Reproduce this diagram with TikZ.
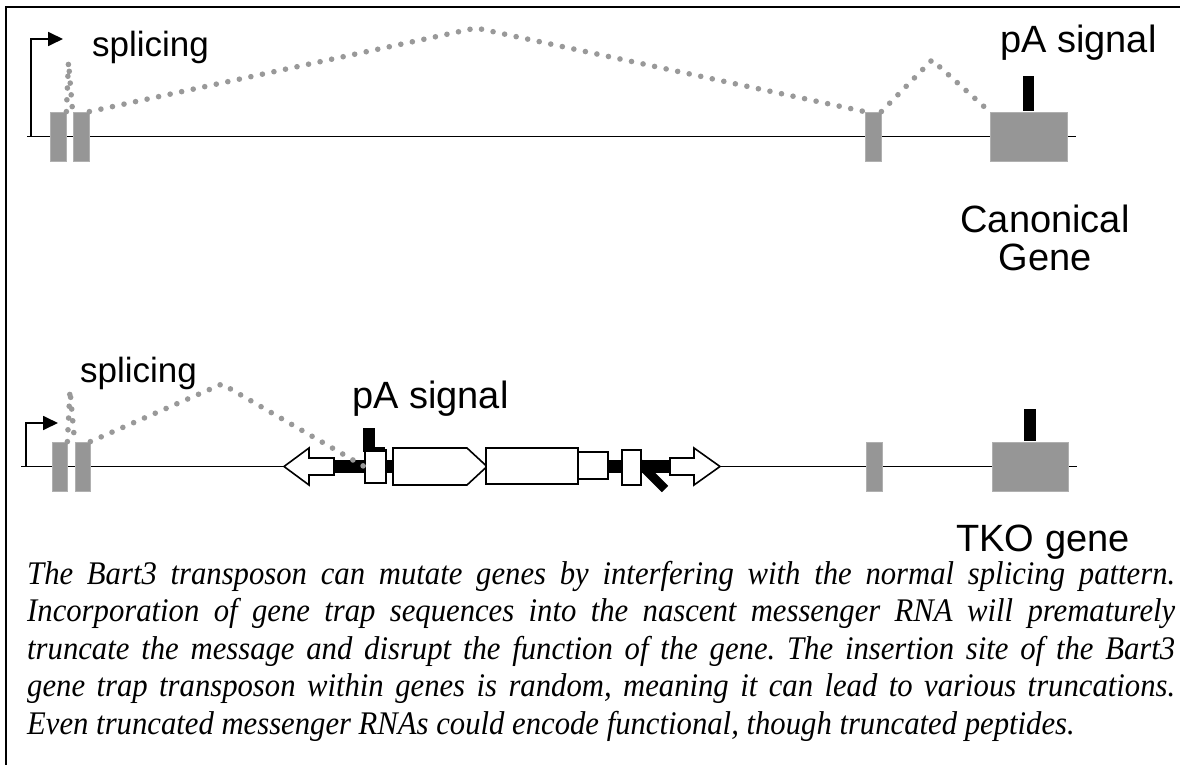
\documentclass[tikz,border=0pt]{standalone}
\usepackage{fontspec}
\setmainfont{Liberation Sans}
\newfontfamily\capfont[FakeStretch=0.93]{Liberation Serif}
\usetikzlibrary{arrows.meta}
\definecolor{exgray}{HTML}{969696}
\definecolor{dotgray}{HTML}{999999}
\begin{document}
\frenchspacing
\begin{tikzpicture}[x=1pt,y=-1pt,
  exon/.style={fill=exgray, draw=exgray!75!white, line width=0.8pt, inner sep=0pt, minimum height=49pt},
  pabar/.style={fill=black, draw=none, inner sep=0pt},
  tbox/.style={draw=black, fill=white, line width=1.6pt, inner sep=0pt},
  tarrow/.style={draw=black, fill=white, line width=1.6pt, line join=miter},
  splice/.style={dotgray, line width=5.6pt, line cap=round, dash pattern=on 0pt off 11.8pt},
  gline/.style={line width=1.8pt},
  tss/.style={line width=1.8pt, -{Triangle[length=15pt,width=14pt]}},
  lbl/.style={inner sep=0pt, font=\fontsize{38}{38}\selectfont},
  slbl/.style={inner sep=0pt, font=\fontsize{35}{35}\selectfont}
]
\useasboundingbox (0,0) rectangle (1180,765);
% frame
\draw[line width=2.5pt] (6,765) -- (6,7) -- (1180,7);

% ---------------- canonical gene ----------------
\coordinate (tl0) at (27,136.5);
\coordinate (tl1) at (1076,136.5);
\draw[gline] (tl0) -- (tl1);
\coordinate (ts0) at (31,136.5);
\coordinate (ts1) at (31,39);
\coordinate (ts2) at (63,39);
\draw[tss] (ts0) -- (ts1) -- (ts2);

\node[exon, minimum width=16pt] (t1) at (58,136.5) {};
\node[exon, minimum width=16pt] (t2) at (81,136.5) {};
\node[exon, minimum width=16pt] (t3) at (873,136.5) {};
\node[exon, minimum width=77pt] (t4) at (1028.5,136.5) {};
\node[pabar, minimum width=11pt, minimum height=35pt, anchor=south] (tpa) at (t4.north) {};

\coordinate (tp1) at (68.5,62);
\coordinate (tp2) at (476,28);
\coordinate (tp3) at (932,60);
\draw[splice] (t1.north east) -- (tp1) -- (t2.north west);
\draw[splice] (t2.north east) -- (tp2) -- (t3.north west);
\draw[splice] (t3.north east) -- (tp3) -- (t4.north west);

\node[slbl, anchor=base west] (tspl) at (92,57) {splicing};
\node[lbl, anchor=base west] (tpal) at (1000,53) {pA signal};
\node[lbl, anchor=base] (can) at (1045,232) {Canonical};
\node[lbl, anchor=base] (gen) at (1045,270) {Gene};

% ---------------- TKO gene ----------------
\coordinate (bl0) at (21,466.5);
\coordinate (bl1) at (1077,466.5);
\draw[gline] (bl0) -- (bl1);
\coordinate (bs0) at (26,466.5);
\coordinate (bs1) at (26,423);
\coordinate (bs2) at (58,423);
\draw[tss] (bs0) -- (bs1) -- (bs2);

\node[exon, minimum width=15pt] (b1) at (59.5,466.5) {};
\node[exon, minimum width=15pt] (b2) at (82.5,466.5) {};
\node[exon, minimum width=16pt] (b3) at (874,466.5) {};
\node[exon, minimum width=76pt] (b4) at (1030,466.5) {};
\node[pabar, minimum width=12pt, minimum height=32pt, anchor=south] (bpa) at (b4.north) {};

% transposon
\fill (334,460) rectangle (366,473);
\fill (386,460) rectangle (394,473);
\fill (607,460) rectangle (623,473);
\fill (640,460) rectangle (671,473);
\draw[line width=9pt] (638,462) -- (665,489);
\draw[tarrow] (284,466.5) -- (309,448) -- (309,458) -- (334,458) -- (334,475) -- (309,475) -- (309,485) -- cycle;
\draw[tarrow] (720,466.5) -- (694,448) -- (694,458) -- (670,458) -- (670,475) -- (694,475) -- (694,485) -- cycle;
\node[tbox, minimum width=21pt, minimum height=33pt] (x1) at (375.5,466.5) {};
\fill (363,428) rectangle (375,451);
\fill (363,447) rectangle (385,452);
\draw[tarrow] (393,448) -- (467,448) -- (487,466.5) -- (467,485) -- (393,485) -- cycle;
\node[tbox, minimum width=92pt, minimum height=36pt] (x2) at (532,466) {};
\node[tbox, minimum width=30pt, minimum height=27pt] (x3) at (593,465.5) {};
\node[tbox, minimum width=19pt, minimum height=35pt] (x4) at (631.5,467.5) {};

\coordinate (bp1) at (70,390);
\coordinate (bp2) at (222,384);
\draw[splice] (b1.north east) -- (bp1) -- (b2.north west);
\draw[splice] (b2.north east) -- (bp2) -- (x1.west);

\node[slbl, anchor=base west] (bspl) at (80,382) {splicing};
\node[lbl, anchor=base west] (bpal) at (352,408) {pA signal};
\node[lbl, anchor=base] (tko) at (1043,551) {TKO gene};

% caption
\node[anchor=north west, inner sep=0pt, text width=1148pt, align=justify,
      font=\capfont\itshape\fontsize{33}{37.5}\selectfont] (cap) at (27,561)
{The Bart3 transposon can mutate genes by interfering with the normal splicing pattern.\linebreak
Incorporation of gene trap sequences into the nascent messenger RNA will prematurely\linebreak
truncate the message and disrupt the function of the gene. The insertion site of the Bart3\linebreak
gene trap transposon within genes is random, meaning it can lead to various truncations.\linebreak
Even truncated messenger RNAs could encode functional, though truncated peptides.};
\end{tikzpicture}
\end{document}
